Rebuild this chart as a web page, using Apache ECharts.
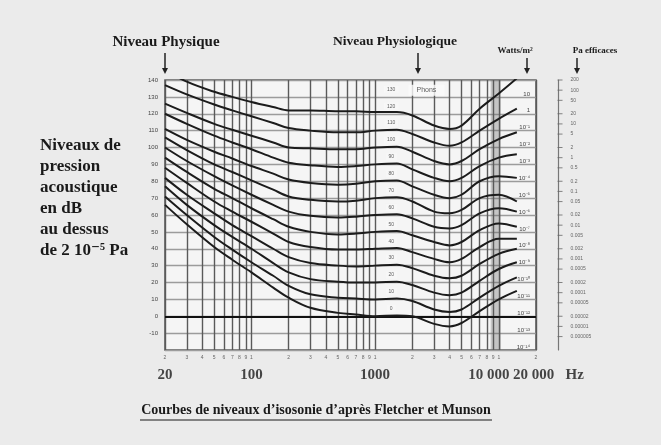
<!DOCTYPE html>
<html>
<head>
<meta charset="utf-8">
<script src="https://cdn.jsdelivr.net/npm/echarts@6/dist/echarts.min.js"></script>
<style>
  html, body { margin: 0; padding: 0; background: #ebebeb; }
  #chart { width: 661px; height: 445px; }
</style>
</head>
<body>
<div id="chart"></div>
<script>
const freqs = [20, 30, 50, 70, 100, 150, 200, 300, 500, 700, 1000, 1500, 2000, 3000, 4000, 5000, 7000, 10000, 14000];

// sound pressure level (dB) of each equal-loudness curve
const phon0   = [66, 54.5, 41, 33.5, 26, 17, 11, 5, 2, 1, 0, 0.5, 0, -4.5, -6, -4, 3, 10, 15];
const phon10  = [71, 60, 47, 39.5, 32, 24, 18, 13, 11, 10.5, 10, 10.5, 9, 4, 2.5, 4, 11, 18, 23];
const phon20  = [77, 66, 54, 47, 40, 31.5, 26, 22, 20.5, 20, 20, 20.5, 18.5, 14, 12.5, 14, 21, 28, 32];
const phon30  = [82, 72, 61, 54, 47.5, 40, 35, 31.5, 30, 29.5, 30, 30.5, 28.5, 24, 22.5, 24, 31, 37, 40];
const phon40  = [88, 79, 68, 62, 56, 49, 44, 41, 39.5, 39.5, 40, 40.5, 38, 34, 32, 34, 41, 46, 46];
const phon50  = [94, 85.5, 75.5, 70, 64, 57.5, 53, 50, 48.5, 49, 50, 50.5, 48, 44, 42, 44, 51, 55, 53];
const phon60  = [100, 92, 83, 77.5, 72, 66, 62, 59.5, 58.5, 59, 60, 60.5, 58, 53, 52, 54, 61, 64, 62];
const phon70  = [106, 98.5, 90, 85.5, 80.5, 75, 71, 69, 68, 68.5, 70, 70.5, 68, 62, 61, 63, 70, 72, 68];
const phon80  = [111, 104.5, 97.5, 93.5, 89, 84.5, 81, 79, 78, 78.5, 80, 80.5, 77, 72, 70, 72, 80, 83, 82];
const phon90  = [120, 114, 107, 103, 99, 94, 91, 89.5, 88.5, 89, 90, 90.5, 87, 82, 80, 82, 89, 94, 96];
const phon100 = [126, 120.5, 114, 110.5, 107, 103, 100, 99.5, 99, 99, 100, 100.5, 97.5, 92, 90, 92, 99, 105, 109];
const phon110 = [137, 131.5, 125.5, 122, 118.5, 114.5, 111.5, 110, 109, 109, 110, 110.5, 108, 103, 101, 103, 110, 117, 123];
const phon120 = [146, 139, 133, 130, 127, 124, 122, 122, 121.5, 121.5, 121, 121, 119, 113, 111, 113, 123, 132, 141];

const curves = [phon0, phon10, phon20, phon30, phon40, phon50, phon60, phon70, phon80, phon90, phon100, phon110, phon120];
const curveLabels = ['0', '10', '20', '30', '40', '50', '60', '70', '80', '90', '100', '110', '120', '130'];

// vertical grid lines and their small tick digits
const gridFreqs = [20, 30, 40, 50, 60, 70, 80, 90, 100, 200, 300, 400, 500, 600, 700, 800, 900,
  1000, 2000, 3000, 4000, 5000, 6000, 7000, 8000, 9000, 10000, 20000];
const bigFreqs = [20, 100, 1000, 10000, 20000];
const bigFreqLabels = ['20', '100', '1000', '10 000', '20 000   Hz'];

// right-hand scale, effective pressure in Pa
const paValues = ['200', '100', '50', '20', '10', '5', '2', '1', '0.5', '0.2', '0.1', '0.05', '0.02',
  '0.01', '0.005', '0.002', '0.001', '0.0005', '0.0002', '0.0001', '0.00005', '0.00002', '0.00001', '0.000005'];

const SERIF = '"Liberation Serif", "DejaVu Serif", serif';
const SUP = { '-': '⁻', '0': '⁰', '1': '¹', '2': '²', '3': '³', '4': '⁴', '5': '⁵', '6': '⁶', '7': '⁷', '8': '⁸', '9': '⁹' };

function wattLabel(v) {
  const e = (v - 120) / 10;
  if (e === 0) return '1';
  if (e === 1) return '10';
  return '10' + String(e).split('').map(c => SUP[c]).join('');
}

const chart = echarts.init(document.getElementById('chart'), null, { renderer: 'canvas' });

const curveSeries = curves.map(c => ({
  type: 'line',
  data: freqs.map((f, i) => [f, c[i]]),
  smooth: 0.35,
  symbol: 'none',
  silent: true,
  z: 5,
  lineStyle: { color: '#1c1c1c', width: 2 }
}));

// transparent points that only carry a label
const labelOnly = { symbol: 'circle', symbolSize: 1, itemStyle: { color: 'rgba(0,0,0,0)' }, silent: true, clip: false };

// per-label tweaks for the big frequency labels
const bigLabelStyle = [{}, {}, {}, { offset: [-10, 0] }, { align: 'left', offset: [-23, 0] }];

const arrow = (x, y1, y2) => [
  { type: 'line', shape: { x1: x, y1: y1, x2: x, y2: y2 - 4 }, style: { stroke: '#222', lineWidth: 1.5 } },
  { type: 'polygon', shape: { points: [[x - 3, y2 - 6], [x + 3, y2 - 6], [x, y2]] }, style: { fill: '#222' } }
];

const option = {
  backgroundColor: '#ebebeb',
  animation: false,
  grid: [
    { left: 165, right: 125, top: 80, bottom: 95, show: true, backgroundColor: '#f5f5f5', borderColor: '#555', borderWidth: 1.5 },
    { left: 558, width: 4, top: 80, bottom: 95 }
  ],
  xAxis: [
    {
      type: 'log', logBase: 10, min: 20, max: 20000, gridIndex: 0,
      axisLine: { show: false }, axisTick: { show: false }, axisLabel: { show: false }, splitLine: { show: false }
    },
    { type: 'value', min: 0, max: 1, gridIndex: 1, show: false }
  ],
  yAxis: [
    {
      type: 'value', min: -20, max: 140, interval: 10, gridIndex: 0,
      axisLine: { show: false }, axisTick: { show: false },
      axisLabel: { fontSize: 6, color: '#444', margin: 7, formatter: v => (v === -20 ? '' : String(v)) },
      splitLine: { lineStyle: { color: '#9c9c9c', width: 1.3 } }
    },
    {
      type: 'value', min: -20, max: 140, interval: 10, gridIndex: 0, position: 'right',
      axisLine: { show: false }, axisTick: { show: false }, splitLine: { show: false },
      axisLabel: {
        inside: true, fontSize: 6, color: '#444', margin: 6, verticalAlign: 'bottom',
        formatter: v => (v === 140 ? '' : wattLabel(v))
      }
    },
    {
      type: 'value', min: -20, max: 140, gridIndex: 1,
      axisLine: { show: true, lineStyle: { color: '#777', width: 1.2 } },
      axisTick: { show: false }, axisLabel: { show: false }, splitLine: { show: false }
    }
  ],
  series: [
    {
      // vertical frequency grid, zero line and the shaded band
      type: 'line', data: [], silent: true, z: 3,
      markLine: {
        symbol: 'none', silent: true, label: { show: false },
        lineStyle: { color: '#5a5a5a', width: 1.4, type: 'solid' },
        data: gridFreqs.map(f => ({ xAxis: f })).concat([
          { yAxis: 0, lineStyle: { color: '#111', width: 2.2 } }
        ])
      },
      markArea: {
        silent: true,
        itemStyle: { color: 'rgba(110,110,110,0.35)' },
        data: [[{ xAxis: 8600 }, { xAxis: 10400 }]]
      }
    },
    ...curveSeries,
    {
      // phon labels on the curves
      type: 'scatter', ...labelOnly, z: 8,
      data: curveLabels.map(p => ({ value: [1350, Number(p) + 4.5], name: p })),
      label: {
        show: true, position: 'inside', formatter: '{b}', fontSize: 5, color: '#333',
        backgroundColor: '#f7f7f7', padding: [1, 3]
      }
    },
    {
      type: 'scatter', ...labelOnly, z: 8,
      data: [{ value: [2600, 134], name: 'Phons' }],
      label: {
        show: true, position: 'inside', formatter: '{b}', fontSize: 7, color: '#333',
        backgroundColor: '#fafafa', padding: [2, 8]
      }
    },
    {
      // small tick digits under the axis
      type: 'scatter', ...labelOnly,
      data: gridFreqs.map(f => ({ value: [f, -20], name: String(f)[0] })),
      label: { show: true, position: 'bottom', distance: 5, formatter: '{b}', fontSize: 5, color: '#444' }
    },
    {
      // big frequency labels
      type: 'scatter', ...labelOnly,
      data: bigFreqs.map((f, i) => ({ value: [f, -20], name: bigFreqLabels[i], label: bigLabelStyle[i] })),
      label: {
        show: true, position: 'bottom', distance: 17, formatter: '{b}',
        fontFamily: SERIF, fontWeight: 'bold', fontSize: 15, color: '#1a1a1a'
      }
    },
    {
      // Pa scale on the right
      type: 'scatter', xAxisIndex: 1, yAxisIndex: 2, silent: true,
      symbol: 'rect', symbolSize: [5, 1], symbolOffset: [2, 0],
      itemStyle: { color: '#666' },
      data: paValues.map(p => ({ value: [0, 20 * Math.log10(Number(p) / 2e-5)], name: p })),
      label: { show: true, position: 'right', distance: 8, formatter: '{b}', fontSize: 5, color: '#444' }
    }
  ],
  graphic: [
    { type: 'text', style: { text: 'Niveau Physique', x: 166, y: 35, align: 'center', font: 'bold 15px ' + SERIF, fill: '#1a1a1a' } },
    { type: 'text', style: { text: 'Niveau Physiologique', x: 395, y: 35, align: 'center', font: 'bold 13.5px ' + SERIF, fill: '#1a1a1a' } },
    { type: 'text', style: { text: 'Watts/m²', x: 515, y: 46, align: 'center', font: 'bold 9px ' + SERIF, fill: '#1a1a1a' } },
    { type: 'text', style: { text: 'Pa efficaces', x: 595, y: 46, align: 'center', font: 'bold 9px ' + SERIF, fill: '#1a1a1a' } },
    ...arrow(165, 53, 74),
    ...arrow(418, 53, 74),
    ...arrow(527, 58, 74),
    ...arrow(577, 58, 74),
    {
      type: 'text',
      style: {
        text: 'Niveaux de\npression\nacoustique\nen dB\nau dessus\nde 2 10⁻⁵ Pa',
        x: 40, y: 135, font: 'bold 17px ' + SERIF, lineHeight: 21, fill: '#1a1a1a'
      }
    },
    {
      type: 'text',
      style: {
        text: 'Courbes de niveaux d\u2019isosonie d\u2019après Fletcher et Munson',
        x: 316, y: 403, align: 'center', font: 'bold 14px ' + SERIF, fill: '#1a1a1a'
      }
    },
    { type: 'line', shape: { x1: 140, y1: 420, x2: 492, y2: 420 }, style: { stroke: '#1a1a1a', lineWidth: 1.2 } }
  ]
};

chart.setOption(option);
</script>
</body>
</html>
